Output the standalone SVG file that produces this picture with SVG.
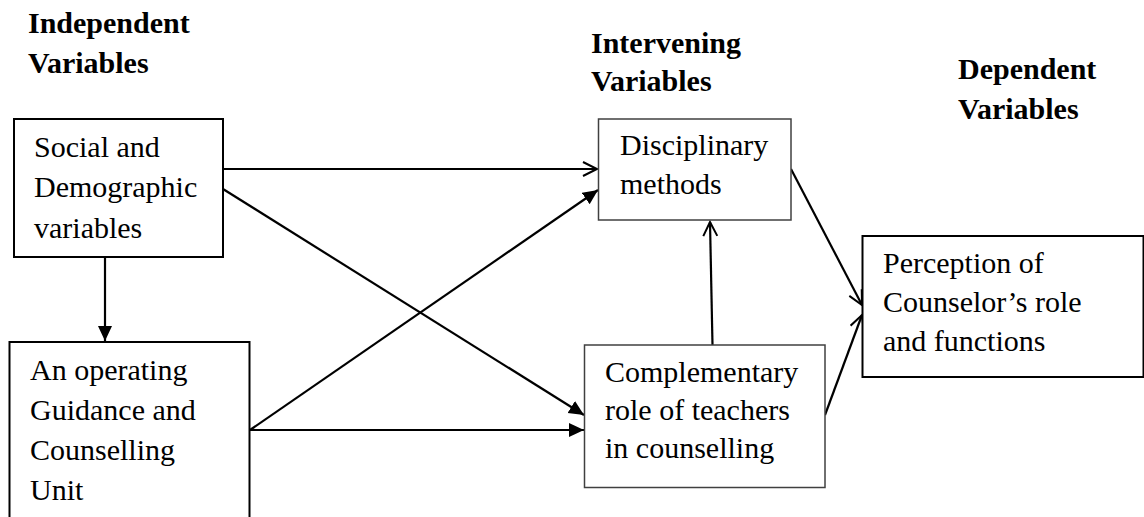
<svg xmlns="http://www.w3.org/2000/svg" width="1144" height="517" viewBox="0 0 1144 517">
<style>
.t{font-family:"Liberation Serif","Times New Roman",serif;font-size:30px;fill:#000}
.h{font-family:"Liberation Serif","Times New Roman",serif;font-size:30px;font-weight:bold;fill:#000}
.bk{fill:#fff;stroke:#000;stroke-width:2}
.gr{fill:#fff;stroke:#404040;stroke-width:1.5}
.c{stroke:#000;stroke-width:2.2;fill:none}
</style>
<defs>
<marker id="fa" markerUnits="userSpaceOnUse" markerWidth="16" markerHeight="16" refX="15" refY="7" orient="auto"><path d="M0,0 L15,7 L0,14 z" fill="#000"/></marker>
<marker id="oa" markerUnits="userSpaceOnUse" markerWidth="18" markerHeight="18" refX="15" refY="8" orient="auto"><path d="M1,1 L15,8 L1,15" fill="none" stroke="#000" stroke-width="2"/></marker>
</defs>
<g id="headers">
<text class="h" x="28" y="33">Independent</text>
<text class="h" x="28" y="73">Variables</text>
<text class="h" x="591" y="53">Intervening</text>
<text class="h" x="591" y="91">Variables</text>
<text class="h" x="958" y="79">Dependent</text>
<text class="h" x="958" y="119">Variables</text>
</g>
<g id="connectors">
<line class="c" x1="223" y1="169" x2="597" y2="169" marker-end="url(#oa)"/>
<line class="c" x1="223" y1="189" x2="584" y2="415" marker-end="url(#fa)"/>
<line class="c" x1="105" y1="257" x2="105" y2="341" marker-end="url(#fa)"/>
<line class="c" x1="250" y1="430" x2="598" y2="190" marker-end="url(#fa)"/>
<line class="c" x1="250" y1="430" x2="584" y2="430" marker-end="url(#fa)"/>
<line class="c" x1="712.5" y1="345" x2="710" y2="222" marker-end="url(#oa)"/>
<line class="c" x1="791" y1="169" x2="862" y2="305" marker-end="url(#oa)"/>
<line class="c" x1="825" y1="415" x2="862" y2="315" marker-end="url(#oa)"/>
</g>
<g id="social">
<rect class="bk" x="14" y="119" width="209" height="138"/>
<text class="t" x="34" y="157">Social and</text>
<text class="t" x="34" y="197">Demographic</text>
<text class="t" x="34" y="238">variables</text>
</g>
<g id="guidance">
<rect class="bk" x="9.5" y="342" width="240" height="200"/>
<text class="t" x="30" y="380">An operating</text>
<text class="t" x="30" y="420">Guidance and</text>
<text class="t" x="30" y="460">Counselling</text>
<text class="t" x="30" y="500">Unit</text>
</g>
<g id="disciplinary">
<rect class="gr" x="598.5" y="119" width="192.5" height="101"/>
<text class="t" x="620" y="155">Disciplinary</text>
<text class="t" x="620" y="194">methods</text>
</g>
<g id="complementary">
<rect class="gr" x="584.5" y="345" width="240.5" height="142.5"/>
<text class="t" x="605" y="382">Complementary</text>
<text class="t" x="605" y="420">role of teachers</text>
<text class="t" x="605" y="458">in counselling</text>
</g>
<g id="perception">
<rect class="bk" x="862.5" y="236" width="281" height="141"/>
<text class="t" x="883" y="273">Perception of</text>
<text class="t" x="883" y="312">Counselor’s role</text>
<text class="t" x="883" y="351">and functions</text>
</g>
</svg>
